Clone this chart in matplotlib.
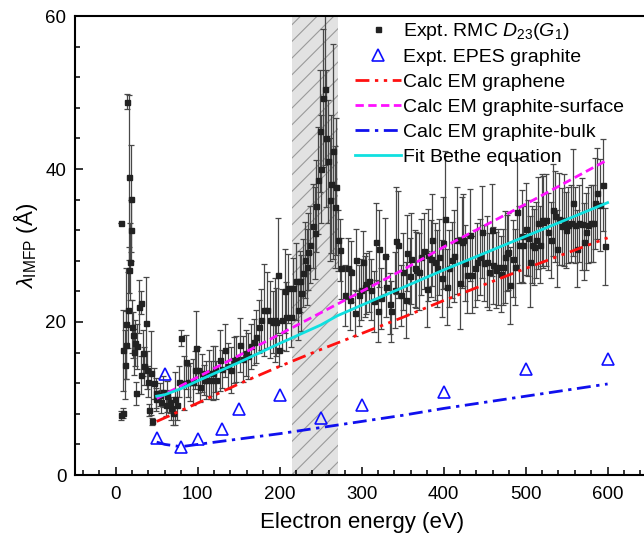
import matplotlib
matplotlib.use("Agg")
import matplotlib.pyplot as plt
import numpy as np

plt.rcParams['font.family'] = ['Liberation Sans', 'DejaVu Sans']
plt.rcParams['mathtext.fontset'] = 'custom'
plt.rcParams['mathtext.rm'] = 'Liberation Sans'
plt.rcParams['mathtext.it'] = 'Liberation Sans:italic'
plt.rcParams['hatch.linewidth'] = 0.8

# ---------------- data ----------------
rmc_x = [6, 7, 9, 9.5, 11, 12, 13, 14.2, 15, 15.9, 16.7, 17.9, 18.3, 18.5, 20.3, 20.8, 22, 23.2,
         25.2, 26.4, 28.5, 30.5, 31.3, 33.4, 34.2, 36.6, 38.2, 39.9, 40.7, 43.5, 43.9, 46.4,
         48.8, 49.6, 53.7, 55.7, 57.8, 61, 62.6, 65.9, 68, 70, 72, 74.9, 77.3, 80.1, 83, 86.2,
         88.3, 91.1, 94.4, 96.4, 98.5, 100.5, 102.5, 105.8, 107.8, 110.7, 113.5, 116.8, 118.8,
         120.8, 122.9, 126.9, 129.8, 133, 137.1, 141.2, 144, 147.3, 152.2, 155.4, 158.7, 161.5,
         165.6, 168.8, 171.7, 174.9, 177.8, 180.6, 184.7, 187.9, 192, 194, 196.1, 198.1, 199.3,
         203.4, 206.3, 208.3, 210.3, 213.6, 216.4, 220.5, 222.5, 224.5, 226.6, 228.6, 230.6,
         233.5, 234.7, 237.6, 240.8, 242.9, 244.9, 247, 249, 251, 253, 255, 257, 259, 261, 263,
         265, 267, 269, 271, 273.3, 275.4, 279.4, 283.5, 285.5, 287.6, 291.6, 293.7, 296.9,
         299.8, 301.8, 303.8, 305.9, 309.1, 312, 314.8, 317.3, 320.1, 321.3, 324.2, 328.2,
         330.3, 334.3, 336.4, 340.4, 341.7, 344.5, 347.4, 350.6, 353.9, 355.5, 358.8, 360.8,
         364.9, 366.9, 370.1, 373, 375.8, 379.1, 381.1, 384, 386.4, 389.3, 392.1, 394.6, 397.4,
         399.4, 401.5, 403.5, 406.8, 409.6, 412.5, 415.7, 419.8, 421.8, 423.8, 425.9, 428.7,
         432, 435.2, 438.1, 440.9, 444.2, 446.2, 449.1, 452.3, 455.6, 458.4, 460.5, 463.7,
         466.6, 469.4, 471.8, 474.7, 476.7, 478.8, 480.8, 484.1, 486.9, 489.7, 492.2, 495,
         497.1, 500.3, 503.2, 505.2, 507.2, 510.1, 512.5, 515.4, 517.4, 519.4, 521.5, 524.7,
         527.6, 530.4, 532.9, 535.7, 538.6, 541, 543.8, 546.7, 549.1, 552, 554.8, 558.1, 560.1,
         563, 565.4, 568.2, 571.1, 573.5, 576.4, 579.2, 581.7, 584.5, 587.4, 590.6, 593.9, 596.7]
rmc_y = [33.0, 7.8, 8.1, 16.3, 14.4, 17.0, 19.8, 48.8, 21.6, 26.8, 38.9, 27.9, 36.1, 32.0, 19.4, 18.3, 16.1, 17.2,
         10.7, 16.8, 22.0, 22.5, 13.1, 15.9, 14.2, 19.9, 13.7, 12.2, 8.5, 13.3, 7.0, 12.0,
         10.7, 9.9, 10.5, 9.6, 10.9, 9.2, 10.3, 9.6, 8.7, 8.1, 10.0, 9.2, 12.2, 17.9, 12.0, 14.8,
         12.2, 12.2, 12.2, 13.7, 16.6, 13.7, 11.5, 13.3, 12.4, 12.4, 13.3, 12.4, 13.3,
         13.9, 12.4, 15.0, 13.9, 16.3, 14.2, 13.7, 15.0, 15.2, 17.0, 15.2, 15.9, 15.5,
         16.8, 17.4, 18.1, 19.4, 20.3, 21.6, 21.6, 20.3, 20.0, 20.3, 20.0, 26.1, 16.3,
         20.3, 24.0, 20.7, 24.4, 20.7, 24.4, 25.3, 21.6, 25.3, 23.8, 26.4, 28.1,
         27.2, 29.2, 30.1, 32.5, 31.6, 35.2, 38.5, 45.0, 40.0, 49.3, 50.5, 44.0, 41.0, 36.0, 38.0,
         42.3, 35.0, 37.7, 30.7, 29.4, 27.0, 23.5, 27.0, 22.9, 26.6, 21.2, 28.1, 23.5,
         24.2, 27.9, 24.6, 25.0, 25.3, 24.2, 22.7, 30.5, 21.4, 29.6, 23.1, 28.6,
         24.6, 22.4, 21.4, 24.2, 30.6, 30.1, 23.5, 26.6, 22.9, 29.0, 26.0, 28.3,
         27.0, 26.8, 26.6, 28.5, 29.3, 24.3, 28.8, 28.3, 30.7, 27.9, 27.0, 28.5, 25.7,
         30.3, 33.4, 24.6, 27.0, 28.1, 28.6, 30.7, 25.1, 30.4, 30.7, 27.7, 26.2,
         31.4, 26.2, 27.0, 27.9, 28.5, 31.8, 27.7, 27.9, 26.6, 32.0, 27.4, 26.8,
         27.2, 26.3, 27.2, 28.5, 29.0, 29.2, 24.8, 28.3, 27.2, 34.4, 30.1, 31.2,
         30.1, 32.2, 31.0, 27.9, 30.1, 29.8, 30.7, 32.9, 30.1, 33.3, 33.1, 33.3,
         31.8, 30.7, 34.6, 33.8, 29.6, 33.5, 32.5, 33.3, 32.0, 32.7, 32.9, 35.6, 32.7,
         29.6, 32.9, 32.8, 30.5, 31.8, 32.7, 32.9, 32.9, 35.5, 36.8, 35.3, 37.9, 29.9]
rmc_err = [0, 0.6, 0.6, 5.3, 4.5, 4.5, 7.3, 1.0, 5, 3, 10.8, 5, 7, 4, 3.5, 3, 3, 3,
           1.5, 3, 3.5, 1.5, 2.5, 3, 2.5, 6, 2.5, 2, 0.8, 5.5, 0.5, 2,
           2, 1.5, 1.5, 1.5, 2, 1.5, 2, 1.5, 1.5, 1.5, 3.5, 2, 2, 1.0, 3.5, 3.5,
           2, 2.5, 3, 2.5, 4.8, 3, 2, 2.5, 2, 2.5, 3, 2.5, 3.5,
           3, 2.5, 4, 2.5, 3.5, 3, 3, 3, 3, 3.5, 3, 3, 3,
           3, 3, 3.5, 3.5, 4, 6, 5, 5, 4, 5.5, 4.5, 7.5, 2,
           4, 5.5, 4.5, 4.5, 4, 4, 5, 4, 4, 5, 4.5, 5,
           5, 5, 5, 5.5, 6, 6, 7, 8, 7, 9, 10, 9, 8, 8, 9,
           14, 8, 9, 4, 4, 4, 4, 4, 4, 4, 3, 4, 4,
           4, 4, 4, 4, 4, 4, 4, 5, 4, 5, 4, 5,
           4, 4, 4, 5, 7, 7, 4, 5, 5, 5, 5, 6,
           5, 5, 5, 5, 5, 5, 6, 5, 6, 5, 5, 5, 5,
           6, 9, 5, 5, 5, 6, 7, 6, 6, 6, 5, 5,
           6, 5, 5, 5, 5, 6, 5, 6, 5, 6, 5, 5,
           5, 5, 5, 6, 5, 5, 5, 5, 5, 7, 5, 6,
           5, 6, 5, 6, 5, 5, 5, 6, 5, 6, 6, 6,
           5, 5, 6, 6, 5, 6, 5, 6, 5, 5, 5, 7, 5,
           5, 5, 6, 5, 5, 5, 5, 5, 6, 6, 6, 6, 5]

epes_x = [50, 60, 80, 100, 130, 150, 200, 250, 300, 400, 500, 600]
epes_y = [4.9, 13.2, 3.7, 4.7, 6.0, 8.6, 10.5, 7.5, 9.2, 10.9, 13.9, 15.1]

graphene_x = [50, 100, 150, 200, 250, 300, 350, 400, 450, 500, 550, 600]
graphene_y = [7.0, 9.4, 11.9, 14.2, 16.4, 18.5, 20.6, 22.8, 24.9, 27.0, 29.0, 31.0]

surface_x = [50, 100, 150, 200, 250, 300, 350, 400, 450, 500, 550, 600]
surface_y = [10.0, 12.8, 15.6, 18.4, 21.2, 24.0, 26.8, 29.8, 32.6, 35.4, 38.3, 41.2]

bulk_x = [50, 60, 80, 100, 150, 200, 250, 300, 350, 400, 450, 500, 550, 600]
bulk_y = [4.3, 4.0, 3.7, 4.0, 4.7, 5.4, 6.2, 7.0, 7.8, 8.7, 9.5, 10.3, 11.1, 11.9]

bethe_x = [50, 60, 80, 100, 150, 200, 250, 270, 300, 350, 400, 450, 500, 550, 600]
bethe_y = [10.3, 10.5, 11.3, 12.3, 14.7, 17.2, 19.6, 20.8, 22.2, 24.5, 26.8, 29.0, 31.2, 33.4, 35.6]

shade_range = (215, 271)

# ---------------- figure ----------------
W, H = 644, 539
fig = plt.figure(figsize=(W / 100, H / 100), dpi=100)
x0, x1 = 74.7, 648.6
y0, y1 = 475, 16
ax = fig.add_axes([x0 / W, 1 - y0 / H, (x1 - x0) / W, (y0 - y1) / H])

ax.axvspan(shade_range[0], shade_range[1], facecolor='#e2e2e2', edgecolor='#9a9a9a',
           hatch='//', linewidth=0, zorder=0)

ax.errorbar(rmc_x, rmc_y, yerr=rmc_err, fmt='none', ecolor='#484848', elinewidth=0.9,
            capsize=2.2, capthick=0.9, zorder=2)
ax.plot(rmc_x, rmc_y, 's', color='#222222', ms=3.6, mec='#222222', zorder=3,
        label=r'Expt. RMC $D_{\rm 23}$($G_{\rm 1}$)')
ax.plot(epes_x, epes_y, '^', ms=9, mfc='none', mec='#1010ff', mew=1.2, zorder=5,
        label='Expt. EPES graphite')
ax.plot(graphene_x, graphene_y, color='#ff1010', lw=2.0, dashes=(5, 2, 1.2, 2, 1.2, 2), zorder=4,
        label='Calc EM graphene')
ax.plot(surface_x, surface_y, color='#ff10ff', lw=2.0, dashes=(3, 1.6), zorder=4,
        label='Calc EM graphite-surface')
ax.plot(bulk_x, bulk_y, color='#1010ee', lw=2.0, dashes=(5, 2, 1.2, 2), zorder=4,
        label='Calc EM graphite-bulk')
ax.plot(bethe_x, bethe_y, color='#10e0e0', lw=2.0, zorder=4, label='Fit Bethe equation')

ax.set_xlim(-50, 650)
ax.set_ylim(0, 60)
ax.set_xticks([0, 100, 200, 300, 400, 500, 600])
ax.set_xticks(np.arange(-40, 650, 20), minor=True)
ax.set_yticks([0, 20, 40, 60])
ax.set_yticks(np.arange(0, 61, 4), minor=True)
ax.tick_params(which='both', direction='in', top=False, right=False, width=1.1,
               labelsize=13.5)
ax.tick_params(which='major', length=6)
ax.tick_params(which='minor', length=3.3)
ax.tick_params(axis='x', pad=8)
ax.tick_params(axis='y', pad=6)
for s in ax.spines.values():
    s.set_linewidth(1.5)

ax.set_xlabel('Electron energy (eV)', fontsize=16, labelpad=6.5)
ax.set_ylabel(r'$\lambda_{\rm IMFP}$ (Å)', fontsize=16, labelpad=4)

leg = ax.legend(loc='upper left', bbox_to_anchor=(355 / W, 1 - 20.5 / H),
                bbox_transform=fig.transFigure, frameon=False, fontsize=14,
                borderpad=0, borderaxespad=0, handlelength=2.35, handletextpad=0.1,
                labelspacing=0.37, numpoints=1)

fig.savefig('out.png', dpi=100)
